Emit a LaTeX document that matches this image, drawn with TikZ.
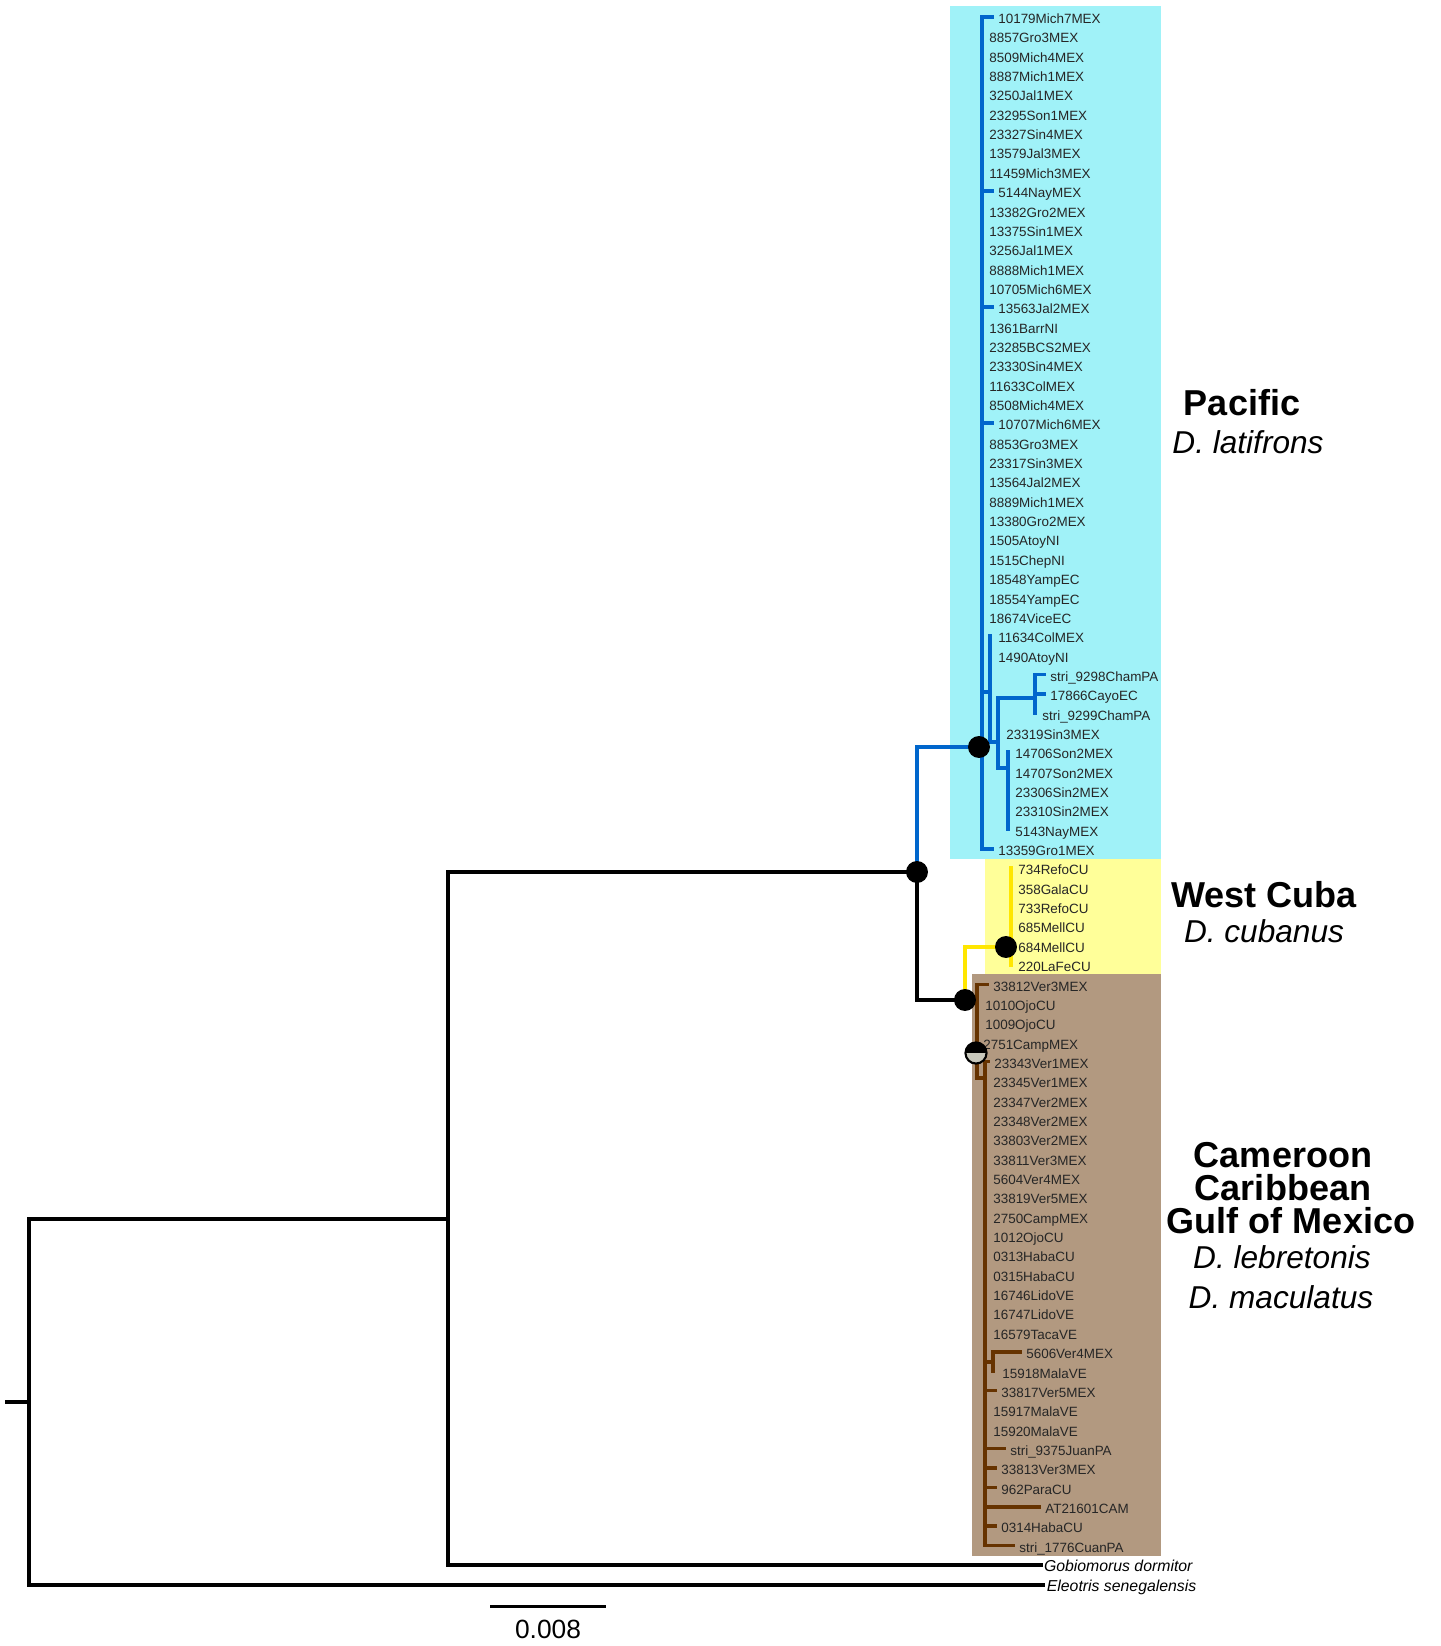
\documentclass[tikz,border=0pt]{standalone}
\usepackage{fontspec}
\setmainfont{Liberation Sans}
\usetikzlibrary{positioning, calc}

\definecolor{pacfill}{RGB}{160,242,248}
\definecolor{cubfill}{RGB}{255,255,153}
\definecolor{gulffill}{RGB}{178,153,128}
\definecolor{pacline}{RGB}{0,102,204}
\definecolor{cubline}{RGB}{255,230,0}
\definecolor{gulfline}{RGB}{102,51,0}
\definecolor{halfgrey}{RGB}{200,200,188}

\tikzset{
  % Branches
  branch/.style={line width=2.3pt, line cap=rect, line join=miter},
  blkbranch/.style={branch, draw=black},
  pacbranch/.style={branch, line width=2pt, draw=pacline},
  cubbranch/.style={branch, line width=2pt, draw=cubline},
  gulfbranch/.style={branch, line width=2pt, draw=gulfline},
  % Tip and clade labels
  taxlabel/.style={
    anchor=west, inner sep=0pt, text=black!85,
    font=\fontsize{7.65}{8}\selectfont,
    text height=1.45ex, text depth=0pt
  },
  outlabel/.style={
    anchor=west, inner sep=0pt,
    font=\fontsize{9}{10}\selectfont\itshape,
    text height=1.45ex, text depth=0pt
  },
  cladehead/.style={anchor=base, inner sep=0pt, font=\fontsize{20.5}{24}\selectfont\bfseries},
  cladesp/.style={anchor=base, inner sep=0pt, font=\fontsize{18}{22}\selectfont\itshape},
  % Posterior support
  support/.style={circle, fill=black, inner sep=0pt, minimum size=12.5pt},
  halfsupport/.style={
    circle, draw=black, line width=1.2pt, fill=halfgrey,
    inner sep=0pt, minimum size=12pt,
    path picture={\fill[black] (path picture bounding box.west)
      rectangle (path picture bounding box.north east);}
  },
}

\newcommand{\taxon}[4]{%
  \coordinate (#1) at (#3,{16.8+(#2-1)*19.35});
  \node[taxlabel] (#1-lab) at ([xshift=3.4pt]#1) {#4};
}

\begin{document}
\begin{tikzpicture}[x=0.02cm, y=-0.02cm]
  \useasboundingbox (0,0) rectangle (1440,1646);

  %% ── Clade boxes ──
  \fill[pacfill]  (950,6)   rectangle (1161,859);
  \fill[cubfill]  (985,859) rectangle (1161,974);
  \fill[gulffill] (972,974) rectangle (1161,1556);

  %% ── Taxa: Pacific ──
  \taxon{t10179}{1}{992}{10179Mich7MEX}
  \taxon{t8857}{2}{983}{8857Gro3MEX}
  \taxon{t8509}{3}{983}{8509Mich4MEX}
  \taxon{t8887}{4}{983}{8887Mich1MEX}
  \taxon{t3250}{5}{983}{3250Jal1MEX}
  \taxon{t23295}{6}{983}{23295Son1MEX}
  \taxon{t23327}{7}{983}{23327Sin4MEX}
  \taxon{t13579}{8}{983}{13579Jal3MEX}
  \taxon{t11459}{9}{983}{11459Mich3MEX}
  \taxon{t5144}{10}{992}{5144NayMEX}
  \taxon{t13382}{11}{983}{13382Gro2MEX}
  \taxon{t13375}{12}{983}{13375Sin1MEX}
  \taxon{t3256}{13}{983}{3256Jal1MEX}
  \taxon{t8888}{14}{983}{8888Mich1MEX}
  \taxon{t10705}{15}{983}{10705Mich6MEX}
  \taxon{t13563}{16}{992}{13563Jal2MEX}
  \taxon{t1361}{17}{983}{1361BarrNI}
  \taxon{t23285}{18}{983}{23285BCS2MEX}
  \taxon{t23330}{19}{983}{23330Sin4MEX}
  \taxon{t11633}{20}{983}{11633ColMEX}
  \taxon{t8508}{21}{983}{8508Mich4MEX}
  \taxon{t10707}{22}{992}{10707Mich6MEX}
  \taxon{t8853}{23}{983}{8853Gro3MEX}
  \taxon{t23317}{24}{983}{23317Sin3MEX}
  \taxon{t13564}{25}{983}{13564Jal2MEX}
  \taxon{t8889}{26}{983}{8889Mich1MEX}
  \taxon{t13380}{27}{983}{13380Gro2MEX}
  \taxon{t1505}{28}{983}{1505AtoyNI}
  \taxon{t1515}{29}{983}{1515ChepNI}
  \taxon{t18548}{30}{983}{18548YampEC}
  \taxon{t18554}{31}{983}{18554YampEC}
  \taxon{t18674}{32}{983}{18674ViceEC}
  \taxon{t11634}{33}{992}{11634ColMEX}
  \taxon{t1490}{34}{992}{1490AtoyNI}
  \taxon{t9298}{35}{1044}{stri\_9298ChamPA}
  \taxon{t17866}{36}{1044}{17866CayoEC}
  \taxon{t9299}{37}{1036}{stri\_9299ChamPA}
  \taxon{t23319}{38}{1000}{23319Sin3MEX}
  \taxon{t14706}{39}{1009}{14706Son2MEX}
  \taxon{t14707}{40}{1009}{14707Son2MEX}
  \taxon{t23306}{41}{1009}{23306Sin2MEX}
  \taxon{t23310}{42}{1009}{23310Sin2MEX}
  \taxon{t5143}{43}{1009}{5143NayMEX}
  \taxon{t13359}{44}{992}{13359Gro1MEX}

  %% ── Taxa: West Cuba ──
  \taxon{t734}{45}{1012}{734RefoCU}
  \taxon{t358}{46}{1012}{358GalaCU}
  \taxon{t733}{47}{1012}{733RefoCU}
  \taxon{t685}{48}{1012}{685MellCU}
  \taxon{t684}{49}{1012}{684MellCU}
  \taxon{t220}{50}{1012}{220LaFeCU}

  %% ── Taxa: Cameroon / Caribbean / Gulf ──
  \taxon{t33812}{51}{987}{33812Ver3MEX}
  \taxon{t1010}{52}{979}{1010OjoCU}
  \taxon{t1009}{53}{979}{1009OjoCU}
  \taxon{t2751}{54}{977}{2751CampMEX}
  \taxon{t23343}{55}{988}{23343Ver1MEX}
  \taxon{t23345}{56}{987}{23345Ver1MEX}
  \taxon{t23347}{57}{987}{23347Ver2MEX}
  \taxon{t23348}{58}{987}{23348Ver2MEX}
  \taxon{t33803}{59}{987}{33803Ver2MEX}
  \taxon{t33811}{60}{987}{33811Ver3MEX}
  \taxon{t5604}{61}{987}{5604Ver4MEX}
  \taxon{t33819}{62}{987}{33819Ver5MEX}
  \taxon{t2750}{63}{987}{2750CampMEX}
  \taxon{t1012}{64}{987}{1012OjoCU}
  \taxon{t0313}{65}{987}{0313HabaCU}
  \taxon{t0315}{66}{987}{0315HabaCU}
  \taxon{t16746}{67}{987}{16746LidoVE}
  \taxon{t16747}{68}{987}{16747LidoVE}
  \taxon{t16579}{69}{987}{16579TacaVE}
  \taxon{t5606}{70}{1020}{5606Ver4MEX}
  \taxon{t15918}{71}{996}{15918MalaVE}
  \taxon{t33817}{72}{995}{33817Ver5MEX}
  \taxon{t15917}{73}{987}{15917MalaVE}
  \taxon{t15920}{74}{987}{15920MalaVE}
  \taxon{t9375}{75}{1004}{stri\_9375JuanPA}
  \taxon{t33813}{76}{995}{33813Ver3MEX}
  \taxon{t962}{77}{995}{962ParaCU}
  \taxon{t21601}{78}{1039}{AT21601CAM}
  \taxon{t0314}{79}{995}{0314HabaCU}
  \taxon{t1776}{80}{1013}{stri\_1776CuanPA}

  %% ── Outgroups ──
  \coordinate (tGobio) at (1041,1565);
  \node[outlabel] (tGobio-lab) at ([xshift=1.5pt]tGobio) {Gobiomorus dormitor};
  \coordinate (tEleo) at (1043,1585);
  \node[outlabel] (tEleo-lab) at ([xshift=2pt]tEleo) {Eleotris senegalensis};

  %% ── Internal nodes ──
  \coordinate (stem)  at (7,1402);
  \coordinate (nRoot) at (29,1402);
  \coordinate (nA)    at (448,1219);
  \coordinate (nB)    at (917,872);
  \coordinate (nC)    at (965,1000);
  \coordinate (nP)    at (982,747);
  \coordinate (nR)    at (990,692);
  \coordinate (nQ)    at (998,742);
  \coordinate (nS)    at (1035,698);
  \coordinate (nT)    at (1008,768);
  \coordinate (nY)    at (1011,947);
  \coordinate (nD)    at (977,1000);
  \coordinate (nE)    at (976,1053);
  \coordinate (nF)    at (985,1078);
  \coordinate (nG)    at (993,1362);

  %% ── Pacific branches ──
  \draw[pacbranch] (nB) |- (nP);
  \draw[pacbranch] (nP |- t10179) -- (nP |- t13359);
  \draw[pacbranch] (nP |- t10179) -- (t10179);
  \draw[pacbranch] (nP |- t5144) -- (t5144);
  \draw[pacbranch] (nP |- t13563) -- (t13563);
  \draw[pacbranch] (nP |- t10707) -- (t10707);
  \draw[pacbranch] (nP |- t13359) -- (t13359);
  \draw[pacbranch] (nP |- nR) -- (nR);
  \draw[pacbranch] (nR |- t11634) -- (nR |- nQ) -- (nQ);
  \draw[pacbranch] (nQ |- nS) -- (nQ |- nT);
  \draw[pacbranch] (nQ |- nS) -- (nS);
  \draw[pacbranch] (nQ |- nT) -- (nT);
  \draw[pacbranch] (nS |- t9298) -- (nS |- t9299);
  \draw[pacbranch] (nS |- t9298) -- (t9298);
  \draw[pacbranch] (nS |- t17866) -- (t17866);
  \draw[pacbranch] (nT |- t14706) -- (nT |- t5143);

  %% ── West Cuba branches ──
  \draw[cubbranch] (nC) |- (nY);
  \draw[cubbranch] (nY |- t734) -- (nY |- t220);

  %% ── Gulf branches ──
  \draw[gulfbranch] (nC) -- (nD);
  \draw[gulfbranch] (nD |- t33812) -- (nD |- nF) -- (nF);
  \draw[gulfbranch] (nD |- t33812) -- (t33812);
  \draw[gulfbranch] (nF |- t23343) -- (nF |- t1776);
  \draw[gulfbranch] (nF |- t23343) -- (t23343);
  \draw[gulfbranch] (nF |- nG) -- (nG);
  \draw[gulfbranch] (nG |- t5606) -- (nG |- t15918);
  \draw[gulfbranch] (nG |- t5606) -- (t5606);
  \draw[gulfbranch] (nF |- t33817) -- (t33817);
  \draw[gulfbranch] (nF |- t9375) -- (t9375);
  \draw[gulfbranch] (nF |- t33813) -- (t33813);
  \draw[gulfbranch] (nF |- t962) -- (t962);
  \draw[gulfbranch] (nF |- t21601) -- (t21601);
  \draw[gulfbranch] (nF |- t0314) -- (t0314);
  \draw[gulfbranch] (nF |- t1776) -- (t1776);

  %% ── Backbone ──
  \draw[blkbranch] (stem) -- (nRoot);
  \draw[blkbranch] (nA) -| (nRoot) |- (tEleo);
  \draw[blkbranch] (nB) -| (nA) |- (tGobio);
  \draw[blkbranch] (nB) |- (nC);

  %% ── Support dots ──
  \node[support] (dotB) at (nB) {};
  \node[support] (dotP) at ($(nP)+(-3,0)$) {};
  \node[support] (dotC) at (nC) {};
  \node[support] (dotY) at ($(nY)+(-5,0)$) {};
  \node[halfsupport] (dotE) at (nE) {};

  %% ── Clade labels ──
  \node[cladehead] (pacHead)   at (1242,415)  {Pacific};
  \node[cladesp]   (pacSp)     at (1248,453)  {D. latifrons};
  \node[cladehead] (cubHead)   at (1264,907)  {West Cuba};
  \node[cladesp]   (cubSp)     at (1264,942)  {D. cubanus};
  \node[cladehead] (gulfHeadA) at (1283,1167) {Cameroon};
  \node[cladehead] (gulfHeadB) at (1283,1200) {Caribbean};
  \node[cladehead] (gulfHeadC) at (1291,1233) {Gulf of Mexico};
  \node[cladesp]   (gulfSpA)   at (1282,1268) {D. lebretonis};
  \node[cladesp]   (gulfSpB)   at (1281,1308) {D. maculatus};

  %% ── Scale bar ──
  \coordinate (barL) at (490,1606);
  \coordinate (barR) at (606,1606);
  \draw[line width=1.7pt] (barL) -- (barR);
  \node[inner sep=0pt, font=\fontsize{15}{18}\selectfont] (barLab) at (548,1629) {0.008};

\end{tikzpicture}
\end{document}
